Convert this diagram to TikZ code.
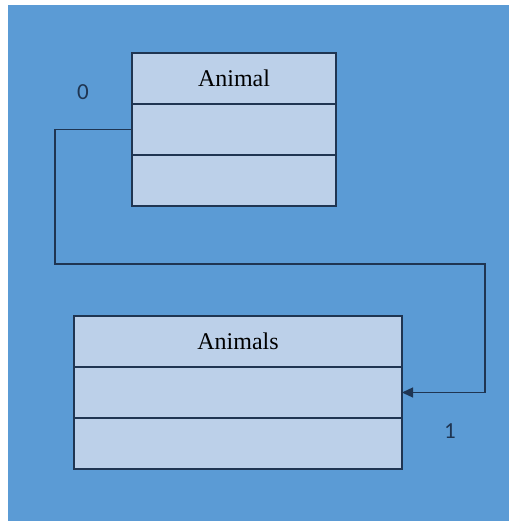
\documentclass[tikz,border=0pt]{standalone}
\usepackage{fontspec}
\setmainfont{Liberation Serif}
\newfontfamily\labelfont{Carlito}
\usetikzlibrary{positioning,arrows.meta}

\definecolor{bgblue}{HTML}{5B9BD5}
\definecolor{boxfill}{HTML}{BCD0E9}
\definecolor{boxline}{HTML}{1F3552}

\tikzset{
  classpart/.style={draw=boxline,fill=boxfill,line width=1.4pt,
    inner sep=0pt,outer sep=0pt,minimum height=51pt,
    font=\fontsize{24}{26}\selectfont,text=black},
  multlabel/.style={inner sep=0pt,text=boxline,
    font=\labelfont\fontsize{23}{26}\selectfont},
  assoc/.style={draw=boxline,line width=1.3pt,
    -{Triangle[length=11pt,width=10pt]}}
}

\begin{document}
\begin{tikzpicture}[x=1pt,y=1pt,yscale=-1]
\useasboundingbox (0,0) rectangle (509,524);

% background
\fill[bgblue] (8,5) rectangle (509,521);

% class Animal
\node[classpart,minimum width=204pt] (animaltitle) at (234,78.5) {Animal};
\node[classpart,minimum width=204pt,below=0pt of animaltitle] (animalattr) {};
\node[classpart,minimum width=204pt,below=0pt of animalattr] (animalops) {};

% class Animals
\node[classpart,minimum width=328pt] (animalstitle) at (238,341.5) {Animals};
\node[classpart,minimum width=328pt,below=0pt of animalstitle] (animalsattr) {};
\node[classpart,minimum width=328pt,below=0pt of animalsattr] (animalsops) {};

% association
\coordinate (bendleft) at (55,264);
\coordinate (bendright) at (485,264);
\draw[assoc] (animalattr.west) -| (bendleft) -- (bendright) |- (animalsattr.east);

% multiplicities
\node[multlabel] (multzero) at (83,92) {0};
\node[multlabel] (multone) at (450,431) {1};

\end{tikzpicture}
\end{document}
